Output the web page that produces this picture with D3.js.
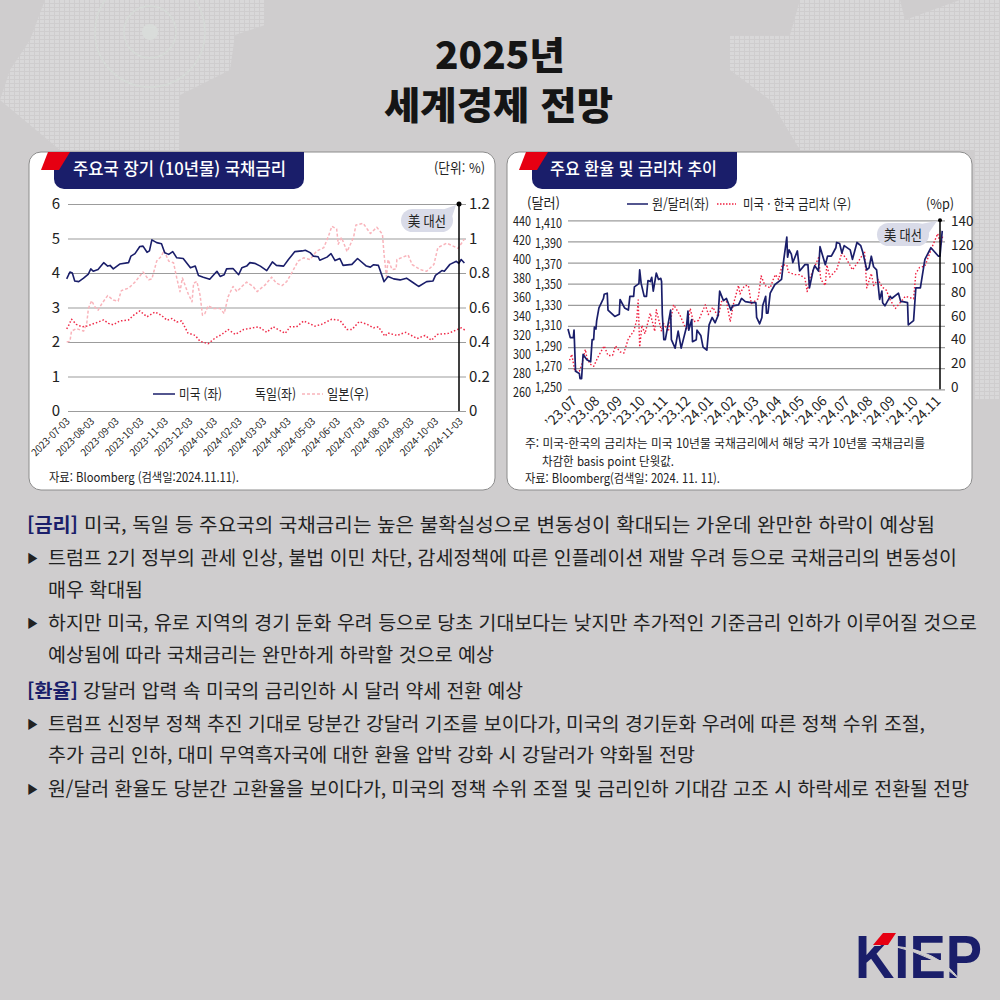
<!DOCTYPE html>
<html lang="ko">
<head>
<meta charset="utf-8">
<script src="https://cdn.jsdelivr.net/npm/d3@7"></script>
<style>
  html, body { margin: 0; padding: 0; background: #cfcdce; }
  svg { display: block; }
  text { font-family: "Noto Sans CJK KR", "Noto Sans", sans-serif; fill: #222; }
</style>
</head>
<body>
<div id="chart"></div>
<script>
// [days since 2023-07-03, yield %]
const usYield = [[0,3.83],[4,4.03],[7,4.0],[10,3.77],[15,3.75],[21,3.85],[27,3.97],[30,4.12],[33,4.05],[39,4.1],[46,4.3],[51,4.2],[54,4.22],[58,4.12],[66,4.26],[77,4.3],[80,4.49],[85,4.56],[91,4.77],[95,4.78],[100,4.6],[103,4.64],[106,4.96],[112,4.88],[118,4.85],[122,4.59],[127,4.54],[132,4.62],[137,4.44],[145,4.42],[154,4.15],[160,4.2],[164,3.93],[170,3.88],[178,3.82],[187,4.05],[191,3.9],[196,3.95],[199,4.12],[207,4.13],[214,3.95],[218,4.15],[224,4.2],[228,4.3],[234,4.28],[241,4.2],[249,4.07],[256,4.32],[261,4.22],[270,4.2],[276,4.39],[284,4.62],[293,4.64],[297,4.66],[303,4.59],[307,4.49],[313,4.47],[315,4.37],[324,4.46],[329,4.56],[334,4.36],[340,4.42],[344,4.22],[355,4.25],[362,4.42],[373,4.2],[378,4.17],[382,4.24],[388,4.22],[395,3.75],[400,3.9],[407,3.83],[415,3.8],[423,3.85],[430,3.74],[438,3.61],[448,3.75],[456,3.77],[459,3.93],[467,4.07],[470,4.05],[477,4.25],[485,4.34],[488,4.28],[491,4.39],[495,4.29]];
const deYield = [[0,2.38],[2,2.46],[6,2.66],[12,2.51],[19,2.44],[25,2.46],[31,2.51],[37,2.56],[46,2.64],[52,2.54],[58,2.5],[66,2.61],[77,2.64],[83,2.77],[91,2.9],[100,2.73],[110,2.87],[118,2.77],[125,2.63],[131,2.68],[137,2.58],[143,2.61],[151,2.26],[160,2.19],[166,2.02],[176,1.95],[185,2.12],[193,2.22],[201,2.36],[210,2.22],[220,2.36],[239,2.44],[249,2.28],[257,2.44],[272,2.25],[278,2.44],[286,2.44],[295,2.61],[309,2.46],[317,2.51],[330,2.66],[340,2.63],[349,2.36],[355,2.36],[364,2.59],[374,2.51],[382,2.41],[388,2.44],[396,2.17],[400,2.26],[411,2.19],[422,2.28],[436,2.1],[446,2.19],[454,2.05],[461,2.22],[475,2.25],[486,2.36],[491,2.41],[496,2.34]];
const jpYield = [[0,.40],[4,.404],[6,.463],[12,.478],[21,.463],[25,.51],[27,.594],[31,.64],[35,.604],[39,.584],[44,.624],[51,.669],[58,.643],[64,.637],[68,.698],[77,.712],[85,.747],[95,.806],[102,.761],[106,.765],[112,.869],[118,.898],[121,.931],[127,.869],[133,.859],[137,.771],[141,.692],[144,.771],[151,.682],[156,.633],[158,.741],[162,.751],[166,.672],[169,.555],[172,.565],[176,.61],[183,.594],[191,.594],[196,.565],[201,.663],[207,.722],[212,.692],[218,.722],[224,.747],[232,.722],[237,.692],[241,.708],[247,.731],[255,.776],[261,.741],[268,.727],[274,.751],[280,.8],[288,.869],[295,.888],[303,.878],[311,.927],[320,.947],[326,1.016],[330,1.071],[336,1.055],[338,.967],[342,1.006],[349,.924],[357,1.006],[360,1.078],[369,1.088],[378,1.029],[386,1.065],[393,1.025],[395,.908],[398,.78],[400,.878],[405,.82],[410,.824],[411,.878],[425,.904],[430,.849],[440,.82],[448,.81],[457,.849],[462,.947],[473,.973],[487,.943],[495,.996]];
const yieldDates = ["2023-07-03","2023-08-03","2023-09-03","2023-10-03","2023-11-03","2023-12-03","2024-01-03","2024-02-03","2024-03-03","2024-04-03","2024-05-03","2024-06-03","2024-07-03","2024-08-03","2024-09-03","2024-10-03","2024-11-03"];
const yieldLeftTicks = [0,1,2,3,4,5,6];
const yieldRightTicks = [0,.2,.4,.6,.8,1,1.2];

// [days since 2023-07-03, won per dollar]
const wonDollar = [[0,1307],[3,1299],[7,1299],[8,1306],[10,1267],[15,1265],[16,1260],[18,1260],[20,1283],[25,1278],[30,1276],[32,1297],[34,1297],[35,1309],[37,1307],[38,1315],[41,1327],[47,1336],[48,1340],[52,1341],[53,1325],[62,1319],[68,1321],[69,1335],[75,1327],[80,1325],[82,1338],[87,1338],[88,1347],[94,1350],[95,1363],[97,1350],[101,1338],[104,1338],[106,1353],[109,1352],[111,1356],[113,1343],[117,1360],[120,1354],[123,1355],[124,1352],[125,1321],[127,1297],[129,1297],[136,1325],[137,1297],[142,1289],[146,1305],[150,1289],[157,1309],[159,1324],[160,1306],[164,1316],[165,1295],[170,1297],[171,1306],[176,1301],[179,1290],[184,1287],[187,1311],[191,1318],[195,1313],[199,1320],[201,1343],[206,1334],[210,1336],[216,1325],[218,1329],[226,1330],[230,1336],[235,1333],[243,1332],[249,1332],[250,1318],[254,1312],[257,1318],[258,1329],[262,1338],[263,1322],[265,1322],[268,1341],[274,1349],[283,1354],[286,1373],[290,1394],[291,1375],[293,1382],[296,1378],[298,1370],[304,1381],[307,1362],[314,1368],[318,1368],[320,1346],[325,1363],[327,1367],[332,1362],[334,1385],[341,1368],[344,1376],[349,1376],[355,1384],[356,1389],[360,1388],[363,1379],[366,1386],[374,1382],[377,1373],[383,1389],[388,1386],[391,1379],[396,1363],[399,1365],[402,1376],[405,1366],[409,1363],[413,1335],[416,1343],[417,1332],[420,1329],[427,1338],[429,1336],[438,1341],[441,1333],[444,1333],[450,1332],[451,1311],[458,1315],[461,1346],[467,1346],[473,1373],[481,1384],[491,1376],[493,1376],[496,1400]];
// [days since 2023-07-03, basis points]
const rateGap = [[2,24],[5,29],[9,15],[15,15],[18,20],[23,33],[25,26],[29,21],[34,19],[40,27],[48,36],[53,28],[59,28],[63,36],[69,31],[74,30],[80,42],[87,48],[91,57],[93,74],[95,35],[98,53],[102,46],[109,63],[115,48],[117,66],[124,48],[126,55],[133,48],[140,70],[148,62],[157,49],[162,67],[166,56],[173,57],[182,70],[186,62],[192,68],[199,60],[204,74],[210,73],[215,56],[219,70],[226,86],[228,79],[232,84],[235,86],[239,86],[243,71],[252,75],[256,94],[261,86],[268,84],[272,91],[275,95],[279,91],[284,103],[290,103],[292,97],[301,95],[307,95],[314,92],[317,81],[321,93],[332,109],[335,91],[341,86],[343,103],[347,93],[356,99],[363,113],[369,108],[377,99],[385,106],[393,114],[396,84],[402,96],[405,86],[411,91],[416,85],[422,82],[427,74],[434,67],[447,77],[458,75],[461,96],[466,101],[473,102],[482,117],[490,129],[494,120],[497,128]];
const fxMonths = ["’23.07","’23.08","’23.09","’23.10","’23.11","’23.12","’24.01","’24.02","’24.03","’24.04","’24.05","’24.06","’24.07","’24.08","’24.09","’24.10","’24.11"];
const wonTicks = [1250,1270,1290,1310,1330,1350,1370,1390,1410];
const indexTicks = [260,280,300,320,340,360,380,400,420,440];
const gapTicks = [0,20,40,60,80,100,120,140];

const bodyLines = [
  { x: 84, w: 851, base: 532, text: "미국, 독일 등 주요국의 국채금리는 높은 불확실성으로 변동성이 확대되는 가운데 완만한 하락이 예상됨", tag: "[금리]" },
  { x: 48, w: 909, base: 565, text: "트럼프 2기 정부의 관세 인상, 불법 이민 차단, 감세정책에 따른 인플레이션 재발 우려 등으로 국채금리의 변동성이", arrow: true },
  { x: 48, w: 95, base: 597, text: "매우 확대됨" },
  { x: 48, w: 929, base: 630, text: "하지만 미국, 유로 지역의 경기 둔화 우려 등으로 당초 기대보다는 낮지만 추가적인 기준금리 인하가 이루어질 것으로", arrow: true },
  { x: 48, w: 446, base: 662, text: "예상됨에 따라 국채금리는 완만하게 하락할 것으로 예상" },
  { x: 83, w: 440, base: 698, text: "강달러 압력 속 미국의 금리인하 시 달러 약세 전환 예상", tag: "[환율]" },
  { x: 48, w: 877, base: 731, text: "트럼프 신정부 정책 추진 기대로 당분간 강달러 기조를 보이다가, 미국의 경기둔화 우려에 따른 정책 수위 조절,", arrow: true },
  { x: 48, w: 647, base: 762, text: "추가 금리 인하, 대미 무역흑자국에 대한 환율 압박 강화 시 강달러가 약화될 전망" },
  { x: 48, w: 921, base: 796, text: "원/달러 환율도 당분간 고환율을 보이다가, 미국의 정책 수위 조절 및 금리인하 기대감 고조 시 하락세로 전환될 전망", arrow: true }
];

const navy = "#1a1e6a";
const red = "#e60012";
const bg = "#cfcdce";

const svg = d3.select("#chart").append("svg").attr("width", 1000).attr("height", 1000);
svg.append("rect").attr("width", 1000).attr("height", 1000).attr("fill", bg);

// fits a string to the width measured on the reference
function label(g, str, x, y, w, size, opts = {}) {
  const t = g.append("text")
    .attr("x", x)
    .attr("y", y)
    .attr("font-size", size)
    .attr("font-weight", opts.weight || 400)
    .style("fill", opts.fill || "#222")
    .text(str);
  if (w) t.attr("textLength", w).attr("lengthAdjust", "spacingAndGlyphs");
  return t;
}

// background world map dots
const defs = svg.append("defs");
defs.append("pattern")
  .attr("id", "dots").attr("width", 5).attr("height", 4).attr("patternUnits", "userSpaceOnUse")
  .append("rect").attr("width", 4).attr("height", 3).attr("fill", "#d9d8d9");
const mapShapes = [
  "M45,0L265,0L265,25L235,35L230,70L180,95L180,150L60,150L0,100L10,70L30,40Z",
  "M800,0L900,0L905,20L960,0L1000,0L1000,400L975,400L975,150L800,150L770,100L730,70L730,35L790,35Z"
];
svg.selectAll(".map").data(mapShapes).join("path").attr("class", "map").attr("d", d => d).attr("fill", "url(#dots)");
svg.append("circle").attr("cx", 150).attr("cy", 32).attr("r", 8).attr("fill", "#d9dcda");
[26, 55].forEach(r => {
  svg.append("circle").attr("cx", 150).attr("cy", 32).attr("r", r).attr("fill", "none").attr("stroke", "#d6dad7").attr("stroke-width", 1.5);
});

// title
label(svg, "2025년", 435, 69, 130, 38, { weight: 900, fill: "#151515" });
label(svg, "세계경제 전망", 384, 119, 229, 38, { weight: 900, fill: "#151515" });

function card(x, w, tagRight, title, titleX, titleW) {
  const g = svg.append("g");
  g.append("rect")
    .attr("x", x).attr("y", 152).attr("width", w).attr("height", 338).attr("rx", 12)
    .attr("fill", "#fff").attr("stroke", "#8c8c8c").attr("stroke-width", 1);
  const l = x + 25;
  g.append("path")
    .attr("d", `M${l},152H${tagRight}V179a10,10 0 0 1 -10,10H${l + 10}a10,10 0 0 1 -10,-10Z`)
    .attr("fill", navy);
  g.append("path")
    .attr("d", `M${x + 12},170L${x + 19},152H${x + 41}L${x + 30},170Z`)
    .attr("fill", red);
  label(g, title, titleX, 175, titleW, 17, { weight: 500, fill: "#fff" });
  return g;
}

function callout(g, x, y, w, h, tipX, tipY, textW) {
  g.append("path")
    .attr("d", `M${x + w - 14},${y + 2}L${tipX},${tipY}L${x + w - 3},${y + 14}Z`)
    .attr("fill", "#d9dbe8");
  g.append("rect")
    .attr("x", x).attr("y", y).attr("width", w).attr("height", h).attr("rx", h / 2)
    .attr("fill", "#d9dbe8");
  label(g, "美 대선", x + 7, y + h / 2 + 5, textW, 13.5);
}

function drawLine(g, rows, x, y, color, width, dash) {
  g.append("path")
    .datum(rows)
    .attr("d", d3.line().x(d => x(d[0])).y(d => y(d[1])))
    .attr("fill", "none")
    .attr("stroke", color)
    .attr("stroke-width", width)
    .attr("stroke-dasharray", dash || null)
    .attr("stroke-linejoin", "round");
}

// style an axis' texts in one place
function styleAxis(a, size) {
  a.select(".domain").remove();
  a.selectAll("text").attr("font-size", size).style("fill", "#222");
}

/* ---------- left chart ---------- */
const c1 = card(29, 466, 304, "주요국 장기 (10년물) 국채금리", 73, 213);
label(c1, "(단위: %)", 434, 173, 51, 13.5);

const x1 = d3.scaleLinear().domain([0, 497]).range([66.7, 466]);
const y1 = d3.scaleLinear().domain([0, 6]).range([411, 204]);
const y1r = d3.scaleLinear().domain([0, 1.2]).range([411, 204]);

const gridAxis1 = c1.append("g")
  .attr("transform", "translate(68,0)")
  .call(d3.axisLeft(y1).tickValues(yieldLeftTicks).tickSize(-398).tickPadding(8).tickFormat(d3.format("d")));
styleAxis(gridAxis1, 15);
gridAxis1.selectAll("line").attr("stroke", "#9c9c9c").attr("stroke-width", 1.2);

const rightAxis1 = c1.append("g")
  .attr("transform", "translate(459,0)")
  .call(d3.axisRight(y1r).tickValues(yieldRightTicks).tickSize(0).tickPadding(10).tickFormat(d => String(d)));
styleAxis(rightAxis1, 15);

const dateScale = d3.scalePoint().domain(yieldDates).range([70, 463]);
const dateAxis = c1.append("g")
  .attr("transform", "translate(0,411)")
  .call(d3.axisBottom(dateScale).tickSize(0));
styleAxis(dateAxis, 10);
dateAxis.selectAll("text")
  .attr("text-anchor", "end")
  .attr("dx", 0).attr("dy", 0).attr("y", 0)
  .attr("transform", "translate(0,11) rotate(-45)")
  .attr("textLength", 49).attr("lengthAdjust", "spacingAndGlyphs");

drawLine(c1, jpYield, x1, y1r, "#f9b4bb", 1.5, "3,2");
drawLine(c1, deYield, x1, y1, "#ef2a48", 1.5, "1.5,2");
drawLine(c1, usYield, x1, y1, navy, 1.6);

c1.append("line").attr("x1", 459).attr("x2", 459).attr("y1", y1(6)).attr("y2", y1(0)).attr("stroke", "#000").attr("stroke-width", 1.5);
c1.append("circle").attr("cx", 459).attr("cy", y1(6)).attr("r", 2.5).attr("fill", "#000");
callout(c1, 401, 209, 52, 23, 456, 205, 38);

c1.append("line").attr("x1", 153).attr("x2", 175).attr("y1", 394).attr("y2", 394).attr("stroke", navy).attr("stroke-width", 1.5);
label(c1, "미국 (좌)", 179, 399, 43, 13.5);
label(c1, "독일(좌)", 255, 399, 41, 13.5);
c1.append("line").attr("x1", 302).attr("x2", 323).attr("y1", 394).attr("y2", 394).attr("stroke", "#f9b4bb").attr("stroke-width", 1.5).attr("stroke-dasharray", "3,2");
label(c1, "일본(우)", 327, 399, 42, 13.5);
label(c1, "자료: Bloomberg (검색일:2024.11.11).", 49, 482, 190, 12.5);

/* ---------- right chart ---------- */
const c2 = card(507, 465, 737, "주요 환율 및 금리차 추이", 550, 167);

const x2 = d3.scaleLinear().domain([0, 497]).range([568, 943]);
const y2 = d3.scaleLinear().domain([1250, 1410]).range([389.3, 220.3]);
const y2r = d3.scaleLinear().domain([0, 140]).range([389.3, 220.3]);

const grid2 = c2.append("g")
  .attr("transform", "translate(568,0)")
  .call(d3.axisLeft(y2).tickValues(wonTicks).tickSize(-377).tickFormat(""));
grid2.select(".domain").remove();
grid2.selectAll("line").attr("stroke", "#9c9c9c").attr("stroke-width", 1.2);

// the printed tick labels do not sit exactly on the gridlines
const wonLabelY = d3.scaleLinear().domain([1250, 1410]).range([387, 223]);
const indexLabelY = d3.scaleLinear().domain([260, 440]).range([392, 221]);
const gapLabelY = d3.scaleLinear().domain([0, 140]).range([387, 221]);

const wonAxis = c2.append("g").attr("transform", "translate(562,0)")
  .call(d3.axisLeft(wonLabelY).tickValues(wonTicks).tickSize(0).tickPadding(0).tickFormat(d3.format(",")));
styleAxis(wonAxis, 13.5);
wonAxis.selectAll("text").attr("textLength", 27).attr("lengthAdjust", "spacingAndGlyphs");
const indexAxis = c2.append("g").attr("transform", "translate(531,0)")
  .call(d3.axisLeft(indexLabelY).tickValues(indexTicks).tickSize(0).tickPadding(0));
styleAxis(indexAxis, 13.5);
indexAxis.selectAll("text").attr("textLength", 18).attr("lengthAdjust", "spacingAndGlyphs");
const gapAxis = c2.append("g").attr("transform", "translate(951,0)")
  .call(d3.axisRight(gapLabelY).tickValues(gapTicks).tickSize(0).tickPadding(0));
styleAxis(gapAxis, 13.5);

const monthScale = d3.scalePoint().domain(fxMonths).range([577, 941]);
const monthAxis = c2.append("g").attr("transform", "translate(0,389)")
  .call(d3.axisBottom(monthScale).tickSize(0));
styleAxis(monthAxis, 13.5);
monthAxis.selectAll("text")
  .attr("text-anchor", "end")
  .attr("dx", 0).attr("dy", 0).attr("y", 0)
  .attr("transform", "translate(0,13) rotate(-45)");

drawLine(c2, rateGap, x2, y2r, "#ef1f3f", 1.4, "1.5,2");
drawLine(c2, wonDollar, x2, y2, navy, 1.7);

c2.append("line").attr("x1", 940).attr("x2", 940).attr("y1", y2(1410)).attr("y2", y2(1250)).attr("stroke", "#000").attr("stroke-width", 1.5);
c2.append("circle").attr("cx", 940).attr("cy", y2(1410)).attr("r", 2).attr("fill", "#000");
callout(c2, 877, 223, 52, 23, 937, 221, 38);

label(c2, "(달러)", 527, 208, 33, 13.5);
c2.append("line").attr("x1", 627).attr("x2", 648).attr("y1", 204).attr("y2", 204).attr("stroke", navy).attr("stroke-width", 1.5);
label(c2, "원/달러(좌)", 652, 209, 57, 13.5);
c2.append("line").attr("x1", 717).attr("x2", 736).attr("y1", 204).attr("y2", 204).attr("stroke", "#ef1f3f").attr("stroke-width", 1.4).attr("stroke-dasharray", "1.5,1.5");
label(c2, "미국 · 한국 금리차 (우)", 743, 209, 108, 13.5);
label(c2, "(%p)", 926, 209, 28, 13.5);

label(c2, "주: 미국-한국의 금리차는 미국 10년물 국채금리에서 해당 국가 10년물 국채금리를", 525, 448, 400, 12.5);
label(c2, "차감한 basis point 단윗값.", 542, 466, 132, 12.5);
label(c2, "자료: Bloomberg(검색일: 2024. 11. 11).", 525, 483, 195, 12.5);

/* ---------- body text ---------- */
const body = svg.append("g");
bodyLines.forEach(d => {
  label(body, d.text, d.x, d.base, d.w, 19);
  if (d.tag) label(body, d.tag, 27, d.base, 51, 19, { weight: 700, fill: navy });
  if (d.arrow) label(body, "▶", 27, d.base - 2, 11, 12);
});

/* ---------- logo ---------- */
const logo = svg.append("g");
label(logo, "KIEP", 855, 978, 127, 62, { weight: 700, fill: navy }).style("font-family", "'Liberation Sans'");
logo.append("path").attr("d", "M868,932L900,932L880,946L868,946Z").attr("fill", bg);
logo.append("path").attr("d", "M873,945L883,933H896L888,945Z").attr("fill", red);
logo.append("path").attr("d", "M893,946Q938,950 959,979Q934,955 893,946Z").attr("fill", bg).attr("stroke", bg).attr("stroke-width", 1);
</script>
</body>
</html>
